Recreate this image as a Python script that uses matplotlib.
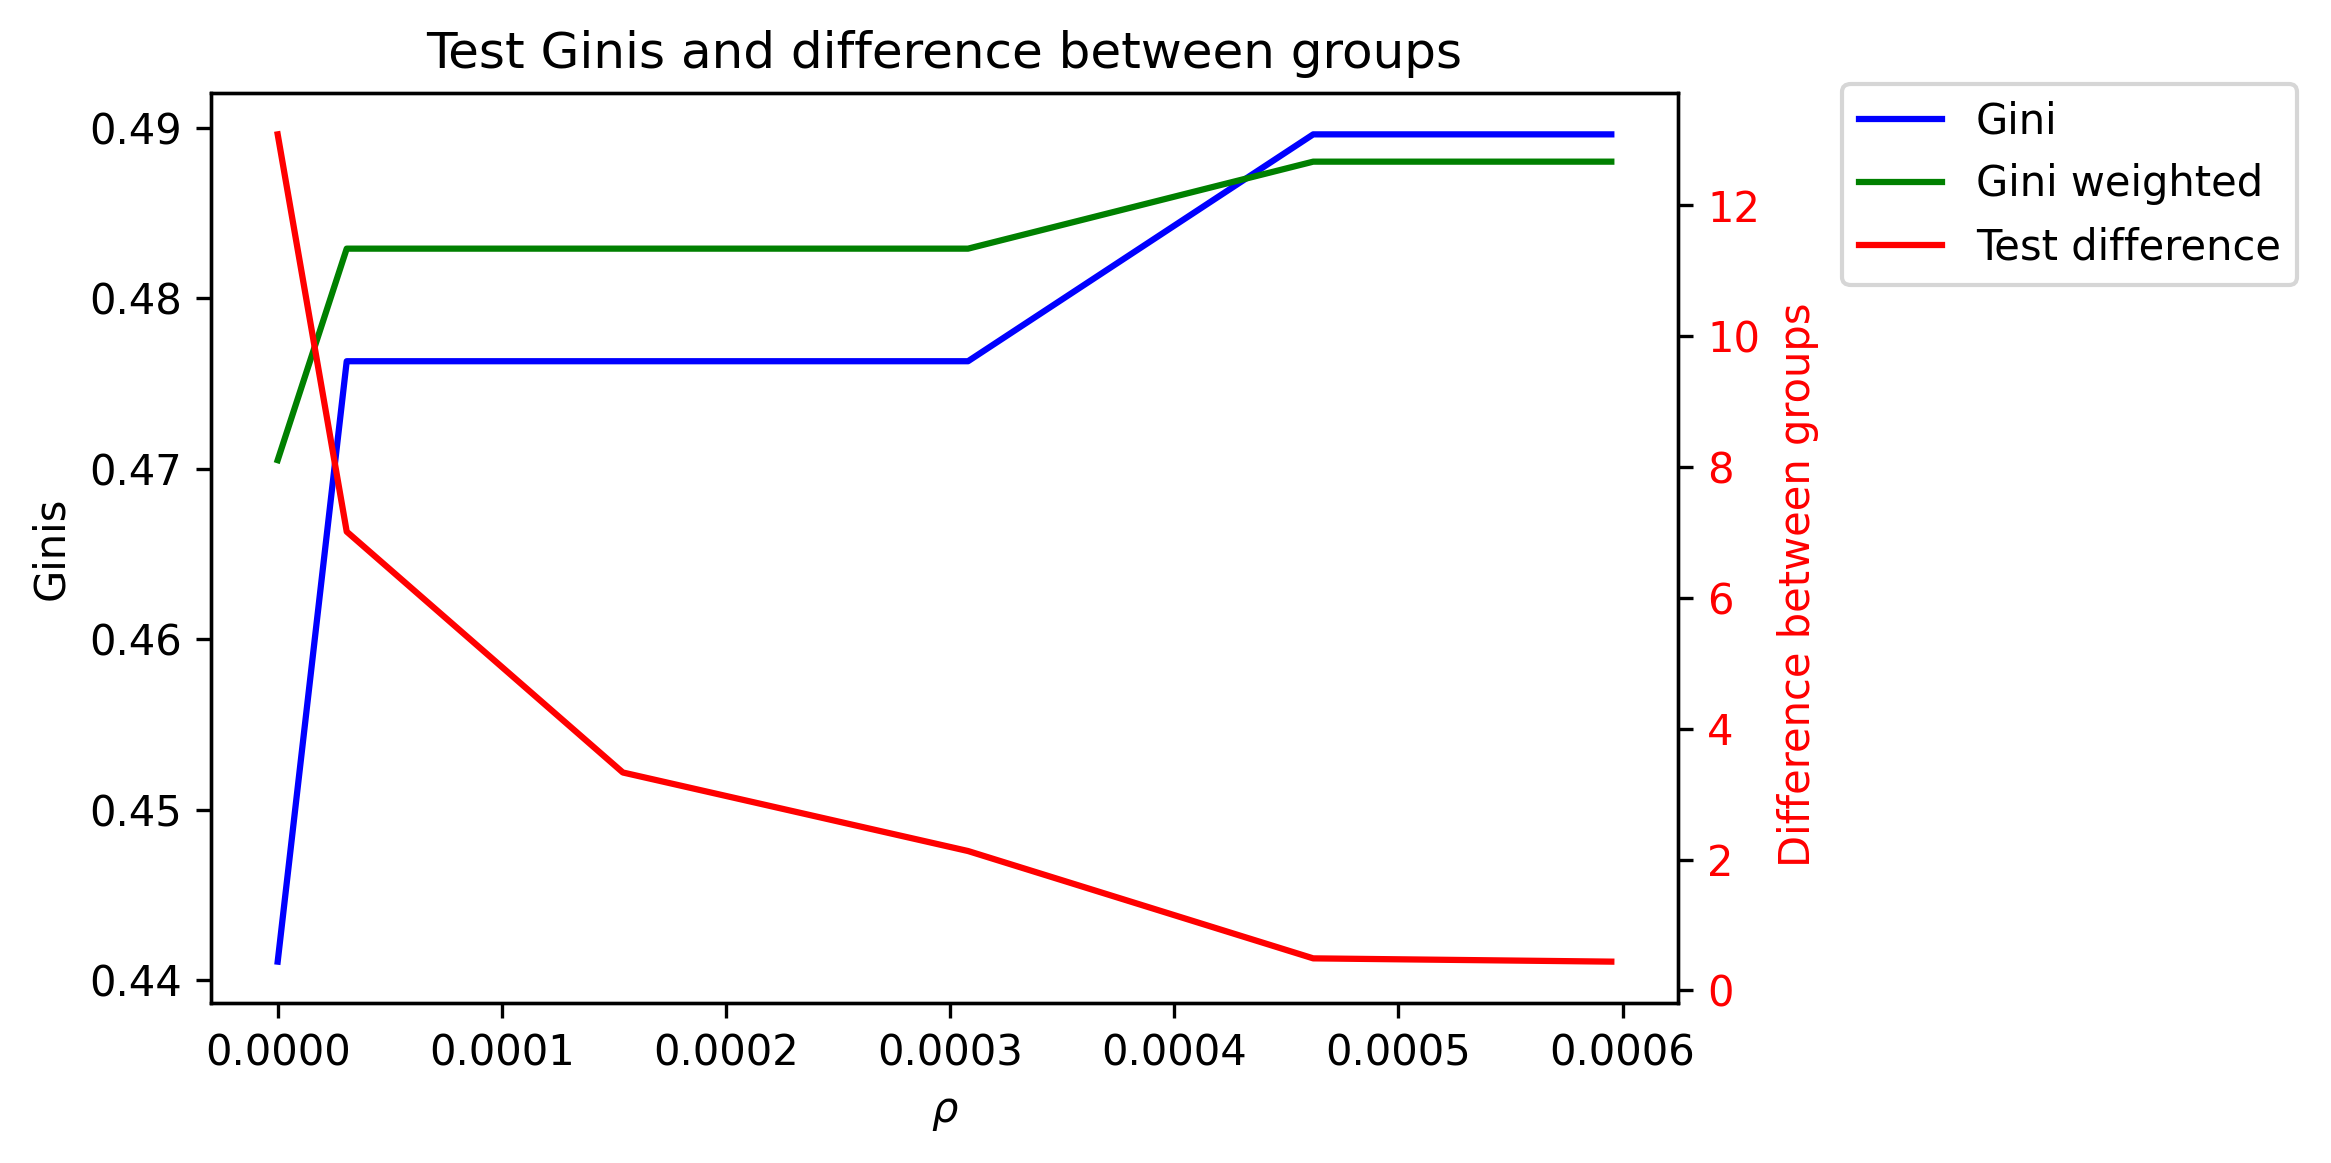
import matplotlib
matplotlib.use("Agg")
import matplotlib.pyplot as plt

# Data
rho = [0.0, 3.08e-5, 1.54e-4, 3.08e-4, 4.62e-4, 5.95e-4]
gini = [0.4411, 0.4763, 0.4763, 0.4763, 0.4896, 0.4896]
gini_weighted = [0.4705, 0.4829, 0.4829, 0.4829, 0.4880, 0.4880]
test_difference = [13.08, 7.01, 3.33, 2.13, 0.49, 0.44]

W, H = 2331, 1163
fig = plt.figure(figsize=(W / 300, H / 300), dpi=300)
left, right, top, bottom = 211, 1678, 93, 1003
ax = fig.add_axes([left / W, 1 - bottom / H, (right - left) / W, (bottom - top) / H])

l1, = ax.plot(rho, gini, color="blue", label="Gini")
l2, = ax.plot(rho, gini_weighted, color="green", label="Gini weighted")
ax.set_xlabel(r"$\rho$")
ax.set_ylabel("Ginis")
ax.set_title("Test Ginis and difference between groups")

ax2 = ax.twinx()
l3, = ax2.plot(rho, test_difference, color="red", label="Test difference")
ax2.set_ylabel("Difference between groups", color="red")
ax2.yaxis.label.set_y(0.46)
ax2.tick_params(axis="y", labelcolor="red")

ax.legend([l1, l2, l3], [l.get_label() for l in (l1, l2, l3)],
          loc="upper left", bbox_to_anchor=(1.112, 1.01), borderaxespad=0)

fig.savefig("out.png", dpi=300)
